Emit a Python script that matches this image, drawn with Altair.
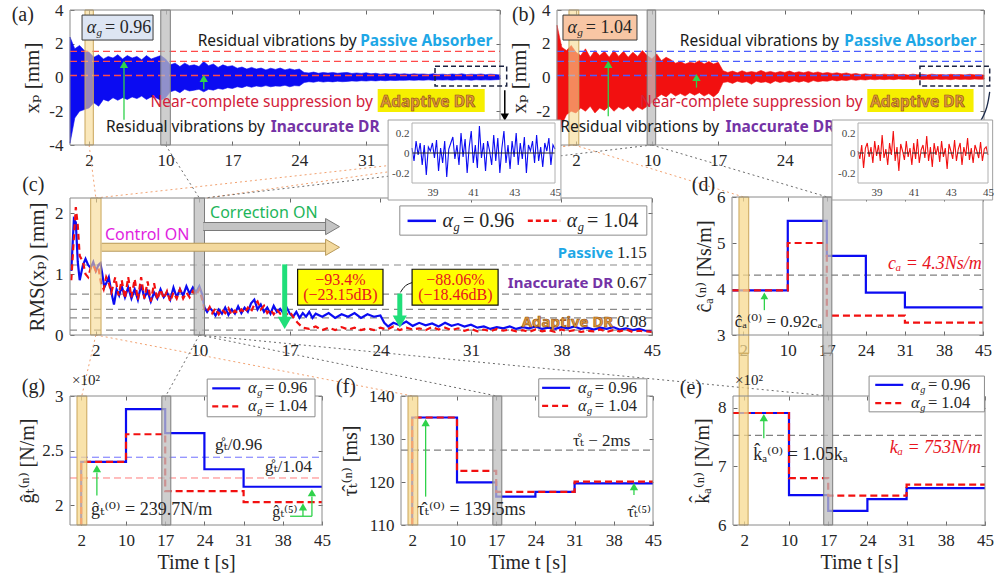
import altair as alt
import pandas as pd

W, H = 995, 580
SERIF = "Liberation Serif, DejaVu Serif, DejaVu Sans, serif"
SANS = "Noto Sans, DejaVu Sans, sans-serif"
BLUE = "#0b0bf2"
RED = "#f21010"
INK = "#262626"
FRAME = "#8a8a8a"
GREEN = "#2fd24a"
MINT = "#20df7a"
GOLD_F, GOLD_S = "#f7d98f", "#c9a55a"
GRAY_F, GRAY_S = "#bdbdbd", "#7d7d7d"
C_PASSIVE = "#1ea7e6"
C_INACC = "#7433a6"
C_ADAPT = "#e39a3c"
C_ADAPT_S = "#8a4a12"
C_NEAR = "#d2213a"
HILITE = "#f6ef00"
ANN = 15.5

# ------------------------------------------------------------------ data
TICKS_T = [2, 10, 17, 24, 31, 38, 45]

# envelope of x_p(t) (a) and (b)  [mm]
ENV_T = [0, 0.5, 1, 1.5, 2, 2.5, 3, 3.5, 4, 4.5,
         5, 5.5, 6, 6.5, 7, 7.5, 8, 8.5, 9, 9.5,
         10, 10.5, 11, 11.5, 12, 12.5, 13, 13.5, 14, 14.5,
         15, 15.5, 16, 16.5, 17, 17.5, 18, 18.5, 19, 19.5,
         20, 20.5, 21, 21.5, 22, 22.5, 23, 23.5, 24, 24.5,
         25, 25.5, 26, 26.5, 27, 27.5, 28, 28.5, 29, 29.5,
         30, 30.5, 31, 31.5, 32, 32.5, 33, 33.5, 34, 34.5,
         35, 35.5, 36, 36.5, 37, 37.5, 38, 38.5, 39, 39.5,
         40, 40.5, 41, 41.5, 42, 42.5, 43, 43.5, 44, 44.5,
         45]
A_UP = [2.4, 1.7, 1.9, 1.6, 1.5, 1.2, 1.35, 1.1, 1.25, 1.15,
        1.35, 1.1, 1.3, 1.15, 1.25, 1.05, 1.3, 1.1, 1.2, 1.3,
        1.1, 0.75, 0.85, 0.65, 0.85, 0.7, 0.75, 0.65, 0.95, 0.7,
        0.8, 0.6, 0.75, 0.65, 0.7, 0.55, 0.62, 0.5, 0.6, 0.5,
        0.56, 0.45, 0.55, 0.48, 0.56, 0.45, 0.52, 0.45, 0.5, 0.3,
        0.27, 0.32, 0.25, 0.3, 0.26, 0.3, 0.25, 0.28, 0.3, 0.24,
        0.27, 0.24, 0.28, 0.22, 0.25, 0.2, 0.23, 0.2, 0.24, 0.2,
        0.22, 0.19, 0.22, 0.2, 0.21, 0.18, 0.22, 0.18, 0.2, 0.17,
        0.21, 0.18, 0.22, 0.17, 0.2, 0.18, 0.21, 0.17, 0.2, 0.18,
        0.15]
A_LO = [-3.9, -2.4, -2.0, -1.9, -1.8, -1.5, -1.7, -1.3, -1.4, -1.2,
        -1.35, -1.2, -1.3, -1.15, -1.25, -1.1, -1.3, -1.15, -1.2, -1.35,
        -1.2, -0.85, -0.75, -0.9, -0.7, -0.8, -0.75, -0.7, -0.85, -0.7,
        -0.75, -0.65, -0.7, -0.6, -0.65, -0.55, -0.6, -0.5, -0.58, -0.5,
        -0.55, -0.48, -0.55, -0.5, -0.52, -0.46, -0.55, -0.48, -0.5, -0.3,
        -0.25, -0.28, -0.22, -0.27, -0.23, -0.26, -0.22, -0.25, -0.23, -0.2,
        -0.22, -0.19, -0.21, -0.18, -0.2, -0.17, -0.19, -0.16, -0.18, -0.16,
        -0.17, -0.15, -0.17, -0.15, -0.16, -0.14, -0.16, -0.14, -0.15, -0.14,
        -0.16, -0.13, -0.15, -0.14, -0.16, -0.13, -0.15, -0.14, -0.15, -0.13,
        -0.12]
B_UP = [3.1, 1.8, 1.6, 1.9, 1.5, 1.3, 1.7, 1.2, 1.6, 1.3,
        1.55, 1.2, 1.6, 1.25, 1.55, 1.2, 1.5, 1.25, 1.6, 1.3,
        1.1, 1.4, 1.0, 1.2, 1.05, 0.85, 0.95, 0.8, 0.9, 0.85,
        1.0, 0.8, 0.95, 0.8, 0.9, 0.4, 0.3, 0.38, 0.28, 0.4,
        0.3, 0.35, 0.3, 0.42, 0.3, 0.36, 0.28, 0.35, 0.3, 0.38,
        0.28, 0.34, 0.28, 0.36, 0.27, 0.33, 0.25, 0.3, 0.24, 0.28,
        0.22, 0.27, 0.2, 0.24, 0.18, 0.22, 0.18, 0.2, 0.16, 0.2,
        0.17, 0.2, 0.16, 0.19, 0.15, 0.2, 0.16, 0.19, 0.15, 0.2,
        0.16, 0.18, 0.15, 0.19, 0.16, 0.18, 0.15, 0.19, 0.16, 0.17,
        0.15]
B_LO = [-4.0, -2.8, -2.2, -2.0, -2.1, -1.8, -2.0, -1.7, -2.1, -1.8,
        -1.95, -1.7, -2.0, -1.75, -1.9, -1.7, -2.0, -1.75, -1.9, -1.7,
        -1.5, -1.2, -1.0, -1.15, -0.9, -1.1, -0.95, -1.1, -0.9, -1.05,
        -0.9, -1.1, -0.95, -1.15, -0.9, -0.3, -0.25, -0.35, -0.22, -0.3,
        -0.25, -0.4, -0.22, -0.3, -0.25, -0.35, -0.2, -0.3, -0.22, -0.3,
        -0.2, -0.28, -0.2, -0.3, -0.18, -0.25, -0.2, -0.22, -0.15, -0.2,
        -0.15, -0.18, -0.12, -0.16, -0.12, -0.15, -0.1, -0.14, -0.1, -0.13,
        -0.1, -0.13, -0.09, -0.12, -0.1, -0.13, -0.09, -0.12, -0.1, -0.12,
        -0.09, -0.12, -0.1, -0.13, -0.09, -0.12, -0.1, -0.12, -0.09, -0.11,
        -0.1]
A_LEVELS = [1.55, 0.95, 0.12]

# zoomed insets 38-45 s  [mm]
IN_T = [38.0, 38.1, 38.2, 38.3, 38.4, 38.5, 38.6, 38.7, 38.8, 38.9,
        39.0, 39.1, 39.2, 39.3, 39.4, 39.5, 39.6, 39.7, 39.8, 39.9,
        40.0, 40.1, 40.2, 40.3, 40.4, 40.5, 40.6, 40.7, 40.8, 40.9,
        41.0, 41.1, 41.2, 41.3, 41.4, 41.5, 41.6, 41.7, 41.8, 41.9,
        42.0, 42.1, 42.2, 42.3, 42.4, 42.5, 42.6, 42.7, 42.8, 42.9,
        43.0, 43.1, 43.2, 43.3, 43.4, 43.5, 43.6, 43.7, 43.8, 43.9,
        44.0, 44.1, 44.2, 44.3, 44.4, 44.5, 44.6, 44.7, 44.8, 44.9,
        45.0]
IN_A = [0.05, -0.08, 0.12, -0.02, 0.1, -0.12, 0.08, -0.22, 0.06, 0.02,
        0.1, -0.05, 0.13, -0.18, 0.05, -0.1, 0.12, -0.24, 0.04, 0.1,
        0.16, -0.06, 0.08, -0.12, 0.2, -0.04, 0.14, -0.2, 0.06, 0.22,
        -0.1, 0.08, -0.15, 0.27, -0.05, 0.1, -0.18, 0.12, 0.02, -0.12,
        0.18, -0.08, 0.15, -0.2, 0.05, 0.22, -0.1, 0.08, -0.16, 0.12,
        -0.04, 0.2, -0.12, 0.1, -0.06, 0.16, -0.2, 0.08, 0.02, 0.12,
        -0.1, 0.18, -0.08, 0.06, -0.14, 0.1, 0.02, 0.15, -0.12, 0.08,
        0.04]
IN_B = [0.02, -0.06, 0.08, -0.15, 0.05, 0.1, -0.04, 0.06, -0.1, 0.12,
        -0.03, 0.08, -0.08, 0.18, -0.05, 0.04, -0.12, 0.1, -0.02, 0.22,
        -0.08, 0.06, -0.18, 0.09, 0.02, -0.07, 0.12, -0.04, 0.05, -0.12,
        0.1, -0.06, 0.14, -0.1, 0.03, 0.08, -0.05, 0.17, -0.08, 0.06,
        -0.14, 0.1, -0.02, 0.07, -0.09, 0.12, -0.04, 0.05, -0.16, 0.09,
        0.02, -0.06, 0.13, -0.08, 0.04, 0.1, -0.12, 0.06, -0.03, 0.15,
        -0.07, 0.05, -0.1, 0.08, 0.02, -0.05, 0.11, -0.08, 0.04, 0.06,
        -0.02]

# panel (c): RMS(x_p) [mm]
C_BLUE = [(0.1, 1.05), (0.3, 1.9), (0.45, 1.85), (0.6, 1.2), (0.75, 0.9), (1.0, 1.15), (1.2, 1.25),
          (1.4, 1.15), (1.6, 1.1), (1.8, 1.2), (2.0, 1.05), (2.2, 1.15), (2.35, 1.18), (2.5, 1.0),
          (2.65, 0.78), (2.8, 0.85), (3.0, 0.95), (3.2, 0.7), (3.4, 0.5), (3.6, 0.75), (3.8, 0.65),
          (4.0, 0.8), (4.25, 0.62), (4.5, 0.78), (4.75, 0.6), (5.0, 0.75), (5.25, 0.58), (5.5, 0.82),
          (5.75, 0.62), (6.0, 0.72), (6.25, 0.55), (6.5, 0.7), (6.75, 0.6), (7.0, 0.75), (7.25, 0.62),
          (7.5, 0.7), (7.75, 0.58), (8.0, 0.78), (8.25, 0.62), (8.5, 0.75), (8.75, 0.65), (9.0, 0.8),
          (9.25, 0.68), (9.5, 0.78), (9.75, 0.7), (10.0, 0.8), (10.2, 0.68), (10.4, 0.45), (10.6, 0.38),
          (10.8, 0.45), (11.0, 0.4), (11.25, 0.32), (11.5, 0.42), (11.75, 0.35), (12.0, 0.45),
          (12.25, 0.33), (12.5, 0.42), (12.75, 0.35), (13.0, 0.47), (13.25, 0.36), (13.5, 0.45),
          (13.75, 0.38), (14.0, 0.52), (14.25, 0.58), (14.5, 0.42), (14.75, 0.5), (15.0, 0.38),
          (15.25, 0.45), (15.5, 0.35), (15.75, 0.48), (16.0, 0.38), (16.25, 0.43), (16.5, 0.36),
          (16.75, 0.45), (17.0, 0.35), (17.25, 0.3), (17.5, 0.38), (17.75, 0.28), (18.0, 0.36),
          (18.25, 0.3), (18.5, 0.38), (18.75, 0.28), (19.0, 0.35), (19.5, 0.3), (20.0, 0.36),
          (20.5, 0.28), (21.0, 0.34), (21.5, 0.3), (22.0, 0.36), (22.5, 0.28), (23.0, 0.34),
          (23.5, 0.3), (24.0, 0.32), (24.3, 0.2), (24.6, 0.14), (25.0, 0.2), (25.5, 0.16), (26.0, 0.22),
          (26.5, 0.15), (27.0, 0.2), (27.5, 0.16), (28.0, 0.19), (28.5, 0.14), (29.0, 0.2), (29.5, 0.15),
          (30.0, 0.18), (30.5, 0.14), (31.0, 0.17), (31.5, 0.12), (32.0, 0.14), (32.5, 0.1), (33.0, 0.13),
          (33.5, 0.11), (34.0, 0.14), (34.5, 0.1), (35.0, 0.13), (35.5, 0.11), (36.0, 0.14), (36.5, 0.1),
          (37.0, 0.12), (37.5, 0.1), (38.0, 0.13), (38.5, 0.11), (39.0, 0.14), (39.5, 0.1), (40.0, 0.12),
          (40.5, 0.09), (41.0, 0.12), (41.5, 0.1), (42.0, 0.13), (42.5, 0.09), (43.0, 0.11), (43.5, 0.08),
          (44.0, 0.1), (44.5, 0.07), (45.0, 0.06)]
C_RED = [(0.1, 0.9), (0.3, 1.6), (0.45, 2.1), (0.6, 1.8), (0.75, 1.3), (1.0, 1.2), (1.2, 1.0),
         (1.4, 0.95), (1.6, 1.1), (1.8, 1.15), (2.0, 1.05), (2.2, 1.1), (2.4, 0.85), (2.6, 0.75),
         (2.8, 0.95), (3.0, 0.85), (3.2, 0.7), (3.5, 0.95), (3.75, 0.65), (4.0, 0.9), (4.25, 0.6),
         (4.5, 0.95), (4.75, 0.62), (5.0, 0.92), (5.25, 0.58), (5.5, 0.95), (5.75, 0.6), (6.0, 0.88),
         (6.25, 0.55), (6.5, 0.85), (6.75, 0.58), (7.0, 0.75), (7.25, 0.6), (7.5, 0.72), (7.75, 0.55),
         (8.0, 0.7), (8.25, 0.6), (8.5, 0.75), (8.75, 0.6), (9.0, 0.7), (9.25, 0.62), (9.5, 0.72),
         (9.75, 0.65), (10.0, 0.75), (10.2, 0.6), (10.4, 0.42), (10.6, 0.38), (10.8, 0.46), (11.0, 0.36),
         (11.25, 0.44), (11.5, 0.34), (11.75, 0.42), (12.0, 0.36), (12.25, 0.44), (12.5, 0.33),
         (12.75, 0.4), (13.0, 0.35), (13.25, 0.42), (13.5, 0.36), (13.75, 0.45), (14.0, 0.38),
         (14.25, 0.5), (14.5, 0.55), (14.75, 0.42), (15.0, 0.48), (15.25, 0.36), (15.5, 0.42),
         (15.75, 0.34), (16.0, 0.42), (16.25, 0.35), (16.5, 0.4), (16.75, 0.34), (17.0, 0.38),
         (17.3, 0.28), (17.6, 0.2), (18.0, 0.12), (18.5, 0.1), (19.0, 0.14), (19.5, 0.08), (20.0, 0.12),
         (20.5, 0.08), (21.0, 0.13), (21.5, 0.09), (22.0, 0.12), (22.5, 0.08), (23.0, 0.11), (23.5, 0.08),
         (24.0, 0.12), (24.5, 0.09), (25.0, 0.14), (25.5, 0.08), (26.0, 0.12), (26.5, 0.09), (27.0, 0.11),
         (27.5, 0.08), (28.0, 0.13), (28.5, 0.09), (29.0, 0.12), (29.5, 0.08), (30.0, 0.11), (30.5, 0.07),
         (31.0, 0.1), (31.5, 0.06), (32.0, 0.09), (32.5, 0.06), (33.0, 0.1), (33.5, 0.07), (34.0, 0.09),
         (34.5, 0.06), (35.0, 0.08), (35.5, 0.05), (36.0, 0.09), (36.5, 0.06), (37.0, 0.08), (37.5, 0.05),
         (38.0, 0.09), (38.5, 0.06), (39.0, 0.08), (39.5, 0.05), (40.0, 0.07), (40.5, 0.06), (41.0, 0.09),
         (41.5, 0.05), (42.0, 0.08), (42.5, 0.06), (43.0, 0.09), (43.5, 0.05), (44.0, 0.07), (44.5, 0.06),
         (45.0, 0.05)]
C_LEVELS = [1.15, 0.67, 0.42, 0.28, 0.08]

# parameter updates (step functions)
D_BT, D_BV = [0, 10, 17, 24, 31, 45], [3.97, 5.48, 4.72, 3.92, 3.6, 3.6]
D_RT, D_RV = [0, 10, 17, 31, 45], [3.97, 5.0, 3.42, 3.27, 3.27]
D_REF = 4.3
G_BT, G_BV = [2, 2, 10, 17, 24, 31, 45], [1.0, 2.397, 2.88, 2.66, 2.33, 2.17, 2.17]
G_RT, G_RV = [2, 2, 10, 17, 31, 45], [1.0, 2.397, 2.65, 2.13, 2.03, 2.03]
G_REF_B, G_REF_R = 2.44, 2.25
F_BT, F_BV = [2, 2, 10, 17, 24, 31, 45], [100, 135, 119.9, 116.6, 117.7, 119.7, 119.7]
F_RT, F_RV = [2, 2, 10, 17, 31, 45], [100, 135, 122.6, 117.7, 120.1, 120.1]
F_REF = 127.4
E_BT, E_BV = [0, 10, 17, 24, 31, 45], [7.91, 6.51, 6.24, 6.44, 6.63, 6.63]
E_RT, E_RV = [0, 10, 17, 31, 45], [7.91, 6.8, 6.5, 6.69, 6.69]
E_REF = 7.53

ALL = []


class Panel:
    def __init__(self, xd, xr, yd, yr):
        self.xd, self.xr, self.yd, self.yr = xd, xr, yd, yr

    def _sc(self, d, r, clamp):
        return alt.Scale(domain=d, range=r, nice=False, zero=False, clamp=clamp)

    def enc(self, clamp=False, x2=False, y2=False):
        e = dict(x=alt.X('x:Q', scale=self._sc(self.xd, self.xr, clamp), axis=None),
                 y=alt.Y('y:Q', scale=self._sc(self.yd, self.yr, clamp), axis=None))
        if x2:
            e['x2'] = alt.X2('x2')
        if y2:
            e['y2'] = alt.Y2('y2')
        return e

    def line(self, xs, ys, clamp=False, **mk):
        df = pd.DataFrame({'x': list(xs), 'y': list(ys), 'o': list(range(len(xs)))})
        ALL.append(alt.Chart(df).mark_line(**mk).encode(order='o:Q', **self.enc(clamp)))

    def area(self, xs, lo, hi, **mk):
        df = pd.DataFrame({'x': xs, 'y': hi, 'y2': lo})
        ALL.append(alt.Chart(df).mark_area(**mk).encode(**self.enc(y2=True)))

    def rect(self, x0, x1, y0, y1, **mk):
        df = pd.DataFrame({'x': [x0], 'x2': [x1], 'y': [y0], 'y2': [y1]})
        ALL.append(alt.Chart(df).mark_rect(**mk).encode(**self.enc(x2=True, y2=True)))

    def rule(self, x0, y0, x1, y1, **mk):
        df = pd.DataFrame({'x': [x0], 'x2': [x1], 'y': [y0], 'y2': [y1]})
        ALL.append(alt.Chart(df).mark_rule(**mk).encode(**self.enc(x2=True, y2=True)))

    def text(self, x, y, s, **mk):
        df = pd.DataFrame({'x': [x], 'y': [y], 's': [s]})
        ALL.append(alt.Chart(df).mark_text(**mk).encode(text='s:N', **self.enc()))

    def point(self, x, y, **mk):
        df = pd.DataFrame({'x': [x], 'y': [y]})
        ALL.append(alt.Chart(df).mark_point(**mk).encode(**self.enc()))

    def frame(self, color=FRAME, width=1):
        self.rect(self.xd[0], self.xd[1], self.yd[0], self.yd[1], fillOpacity=0,
                  stroke=color, strokeWidth=width)

    def axes(self, xvals, yvals, xtitle=None, ytitle=None, fs=17, tfs=20, z=0, col=INK,
             ticks=True, ytp=6, xtp=4, lp=7, xlab=None, ylab=None):
        xl, xr_ = self.xr
        yb, yt = self.yr
        df = pd.DataFrame({'x': [self.xd[0]], 'y': [self.yd[0]]})
        lab = dict(domain=False, ticks=False, grid=False, labelFont=SERIF, labelFontSize=fs,
                   labelColor=col, labelFlush=False, labelOverlap=False, labelPadding=lp,
                   labelExpr="'' + datum.value", zindex=z,
                   titleFont=SERIF, titleFontSize=tfs, titleColor=col, titleFontWeight='normal')
        xa = alt.Axis(orient='bottom', offset=yb - H, values=xlab or xvals, title=xtitle,
                      titlePadding=xtp, **lab)
        ya = alt.Axis(orient='left', offset=-xl, values=ylab or yvals, title=ytitle,
                      titlePadding=ytp, **lab)
        ALL.append(alt.Chart(df).mark_point(opacity=0).encode(
            x=alt.X('x:Q', scale=self._sc(self.xd, self.xr, False), axis=xa),
            y=alt.Y('y:Q', scale=self._sc(self.yd, self.yr, False), axis=ya)))
        if ticks:
            tk = dict(domain=False, labels=False, grid=False, ticks=True, tickSize=4,
                      tickColor='#6a6a6a', title=None, zindex=z)
            for xo, xoff, yo, yoff in [('top', -yb, 'right', xl - W),
                                       ('bottom', yt - H, 'left', -xr_)]:
                ALL.append(alt.Chart(df).mark_point(opacity=0).encode(
                    x=alt.X('x:Q', scale=self._sc(self.xd, self.xr, False),
                            axis=alt.Axis(orient=xo, offset=xoff, values=xvals, **tk)),
                    y=alt.Y('y:Q', scale=self._sc(self.yd, self.yr, False),
                            axis=alt.Axis(orient=yo, offset=yoff, values=yvals, **tk))))


def pix(p, t, v):
    x = p.xr[0] + (t - p.xd[0]) / (p.xd[1] - p.xd[0]) * (p.xr[1] - p.xr[0])
    y = p.yr[0] + (v - p.yd[0]) / (p.yd[1] - p.yd[0]) * (p.yr[1] - p.yr[0])
    return x, y


def arrow(p, x0, y0, x1, y1, color, width, hx, hy, shape, size, angle=0):
    p.rule(x0, y0, x1, y1, color=color, strokeWidth=width)
    p.point(hx, hy, shape=shape, size=size, filled=True, color=color, opacity=1, angle=angle)


def alpha(p, x, y, val, fs, color=INK):
    p.text(x, y, 'α', align='left', font=SERIF, fontSize=fs, fontStyle='italic', color=color)
    p.text(x, y, 'g', align='left', font=SERIF, fontSize=round(fs * 0.62, 1), fontStyle='italic',
           color=color, dx=round(fs * 0.55, 1), dy=round(fs * 0.3, 1))
    p.text(x, y, '= ' + val, align='left', font=SERIF, fontSize=fs, color=color,
           dx=round(fs * 1.02, 1))


def bands(p, gold, gray, lo=None, hi=None, ga=0.6):
    lo = p.yd[0] if lo is None else lo
    hi = p.yd[1] if hi is None else hi
    p.rect(gold[0], gold[1], lo, hi, fill=GOLD_F, fillOpacity=ga, stroke=GOLD_S, strokeWidth=1)
    p.rect(gray[0], gray[1], lo, hi, fill=GRAY_F, fillOpacity=0.75, stroke=GRAY_S, strokeWidth=1)


def legend(p, box, xs, vb, vr, xt, fs):
    p.rect(box[0], box[1], box[2], box[3], fill='white', stroke='#8c8c8c', strokeWidth=1)
    p.rule(xs[0], vb, xs[1], vb, color=BLUE, strokeWidth=2.2)
    p.rule(xs[0], vr, xs[1], vr, color=RED, strokeWidth=2.2, strokeDash=[6, 4])
    alpha(p, xt, vb, '0.96', fs)
    alpha(p, xt, vr, '1.04', fs)


# ------------------------------------------------------------------ panels (layout)
A = Panel([0, 45], [70, 500], [-4, 4], [145, 10])
B = Panel([0, 45], [557, 984], [-4, 4], [145, 10])
AI = Panel([38, 45], [412, 555], [-0.3, 0.3], [183, 123])
BI = Panel([38, 45], [858, 988], [-0.3, 0.3], [183, 123])
C = Panel([0, 45], [70, 652], [0, 2.25], [335, 198])
D = Panel([0, 45], [732, 983], [3, 6], [335, 197])
G = Panel([0, 45], [70, 322], [1.82, 3.0], [525, 396])
F = Panel([0, 45], [401, 653], [110, 140], [525, 396])
E = Panel([0, 45], [733, 985], [6, 8.2], [525, 396])
CAN = Panel([0, W], [0, W], [0, H], [0, H])

# zoom connectors (dotted)
ORANGE_LINKS = [((A, 2.0, -4), (C, 2.0, 2.25)), ((C, 2.0, 2.25), (B, 1.8, -4)),
                ((C, 10.6, 2.25), (B, 1.8, -4)), ((B, 1.8, -4), (D, 2.1, 6)),
                ((C, 2.0, 0), (G, 2.1, 3.0)), ((C, 2.0, 0), (F, 2.1, 140))]
GRAY_LINKS = [((A, 10.0, -4), (C, 10.0, 2.25)), ((B, 10.0, -4), (D, 17.1, 6)),
              ((B, 10.0, -4), (C, 10.4, 2.25)), ((C, 10.0, 0), (G, 17.1, 3.0)),
              ((C, 10.0, 0), (F, 17.1, 140)), ((C, 10.0, 0), (E, 17.1, 8.2))]
for links, col in [(ORANGE_LINKS, '#f2a271'), (GRAY_LINKS, '#6b6b6b')]:
    for (p0, t0, v0), (p1, t1, v1) in links:
        x0, y0 = pix(p0, t0, v0)
        x1, y1 = pix(p1, t1, v1)
        CAN.rule(x0, y0, x1, y1, color=col, strokeWidth=1, strokeDash=[2, 3])

# ---------------- (a)
A.axes(TICKS_T, [-4, -2, 0, 2, 4], ytitle='xₚ [mm]', tfs=21, ytp=6, xlab=[2, 10, 17, 24, 31])
A.area(ENV_T, A_LO, A_UP, color=BLUE, stroke=BLUE, strokeWidth=0.6)
for lv in A_LEVELS:
    A.rule(0, lv, 45, lv, color='#ff4a4a', strokeWidth=1.3, strokeDash=[7, 4])
bands(A, (1.57, 2.44), (9.5, 10.5))
A.frame()
A.rect(1.26, 8.69, 3.70, 2.22, fill='#dde5f3', stroke='#3a3a3a', strokeWidth=1)
alpha(A, 1.75, 2.93, '0.96', 18)
A.text(44.2, 2.16, 'Passive Absorber', align='right', font=SANS, fontSize=ANN, fontWeight='bold', color=C_PASSIVE)
A.text(30.0, 2.16, 'Residual vibrations by', align='right', font=SANS, fontSize=ANN, color='#1a1a1a')
A.rect(32.2, 43.4, -0.68, -2.04, fill=HILITE)
A.text(31.7, -1.45, 'Near-complete suppression by', align='right', font=SANS, fontSize=ANN, color=C_NEAR)
A.text(32.5, -1.45, 'Adaptive DR', align='left', font=SANS, fontSize=ANN, fontWeight='bold',
       fill=C_ADAPT, stroke=C_ADAPT_S, strokeWidth=0.6)
A.text(20.4, -2.93, 'Residual vibrations by', align='right', font=SANS, fontSize=ANN, color='#1a1a1a')
A.text(21.0, -2.93, 'Inaccurate DR', align='left', font=SANS, fontSize=ANN, fontWeight='bold', color=C_INACC)
arrow(A, 5.65, -2.5, 5.65, 0.6, GREEN, 1.3, 5.65, 0.78, 'triangle-up', 70)
arrow(A, 14.0, -0.7, 14.0, -0.2, GREEN, 1.3, 14.0, -0.05, 'triangle-up', 70)
A.rect(38.2, 45.7, -0.5, 0.67, fillOpacity=0, stroke='#1b2340', strokeWidth=1.5, strokeDash=[5, 3])
arrow(A, 45.5, -0.75, 45.5, -2.2, 'black', 1.5, 45.5, -2.35, 'triangle-down', 70)
A.text(-6.1, 3.7, '(a)', align='left', font=SERIF, fontSize=20, color=INK)

# ---------------- (b)
B.axes(TICKS_T, [-4, -2, 0, 2, 4], ytitle='xₚ [mm]', tfs=21, ytp=6,
       xlab=[2, 10, 17, 24], ylab=[-2, 0, 2, 4])
B.area(ENV_T, B_LO, B_UP, color=RED, stroke=RED, strokeWidth=0.6)
for lv in A_LEVELS:
    B.rule(0, lv, 45, lv, color='#4a5cff', strokeWidth=1.3, strokeDash=[7, 4])
bands(B, (1.26, 2.3), (9.5, 10.4))
B.frame()
B.rect(0.63, 8.43, 3.70, 2.22, fill='#f8c6a4', stroke='#3a3a3a', strokeWidth=1)
alpha(B, 1.1, 2.93, '1.04', 18)
B.text(44.2, 2.14, 'Passive Absorber', align='right', font=SANS, fontSize=ANN, fontWeight='bold', color=C_PASSIVE)
B.text(29.7, 2.14, 'Residual vibrations by', align='right', font=SANS, fontSize=ANN, color='#1a1a1a')
B.rect(32.7, 43.9, -0.68, -2.04, fill=HILITE)
B.text(32.2, -1.43, 'Near-complete suppression by', align='right', font=SANS, fontSize=ANN, color=C_NEAR)
B.text(33.0, -1.43, 'Adaptive DR', align='left', font=SANS, fontSize=ANN, fontWeight='bold',
       fill=C_ADAPT, stroke=C_ADAPT_S, strokeWidth=0.6)
B.text(17.1, -2.93, 'Residual vibrations by', align='right', font=SANS, fontSize=ANN, color='#1a1a1a')
B.text(17.75, -2.93, 'Inaccurate DR', align='left', font=SANS, fontSize=ANN, fontWeight='bold', color=C_INACC)
arrow(B, 5.4, -2.3, 5.4, 0.6, GREEN, 1.3, 5.4, 0.78, 'triangle-up', 70)
arrow(B, 14.7, -0.6, 14.7, -0.15, GREEN, 1.3, 14.7, 0.0, 'triangle-up', 70)
B.rect(38.25, 45.6, -0.5, 0.67, fillOpacity=0, stroke='#1b2340', strokeWidth=1.5, strokeDash=[5, 3])
B.line([45.6, 45.3, 44.2], [-0.85, -2.0, -3.0], color='#1b2a4a', strokeWidth=1.3, interpolate='basis')
B.point(44.05, -3.12, shape='triangle-up', size=55, filled=True, color='#1b2a4a', opacity=1, angle=210)
B.text(-4.75, 3.7, '(b)', align='left', font=SERIF, fontSize=20, color=INK)

# ---------------- (c)
C.axes(TICKS_T, [0, 1, 2], ytitle='RMS(xₚ) [mm]', tfs=21, ytp=7)
for lv in C_LEVELS:
    C.rule(0, lv, 45, lv, color='#8a8a8a', strokeWidth=1.2, strokeDash=[7, 5])
ct, cv = zip(*C_BLUE)
C.line(ct, cv, color=BLUE, strokeWidth=2.2)
ct, cv = zip(*C_RED)
C.line(ct, cv, color=RED, strokeWidth=2.2, strokeDash=[6, 4])
bands(C, (1.6, 2.4), (9.6, 10.4))
C.frame()
C.rule(10.3, 1.78, 19.9, 1.78, color='#7a7a7a', strokeWidth=9)
C.rule(10.3, 1.78, 19.9, 1.78, color='#c4c4c4', strokeWidth=7)
C.point(20.3, 1.78, shape='triangle-right', size=260, filled=True, fill='#c4c4c4', stroke='#7a7a7a',
        strokeWidth=1, opacity=1)
C.rule(2.45, 1.44, 19.9, 1.44, color='#b89a5a', strokeWidth=9)
C.rule(2.45, 1.44, 19.9, 1.44, color='#f3d99e', strokeWidth=7)
C.point(20.3, 1.44, shape='triangle-right', size=260, filled=True, fill='#f3d99e', stroke='#b89a5a',
        strokeWidth=1, opacity=1)
C.text(10.83, 2.0, 'Correction ON', align='left', font=SANS, fontSize=16, color='#1db55a')
C.text(2.7, 1.64, 'Control ON', align='left', font=SANS, fontSize=16, color='#e01ee0')
C.text(42.0, 1.34, 'Passive', align='right', font=SANS, fontSize=15, fontWeight='bold', color=C_PASSIVE)
C.text(42.3, 1.34, '1.15', align='left', font=SERIF, fontSize=17, color=INK)
C.text(42.0, 0.85, 'Inaccurate DR', align='right', font=SANS, fontSize=15, fontWeight='bold', color=C_INACC)
C.text(42.3, 0.85, '0.67', align='left', font=SERIF, fontSize=17, color=INK)
C.text(42.0, 0.22, 'Adaptive DR', align='right', font=SANS, fontSize=15, fontWeight='bold',
       fill=C_ADAPT, stroke=C_ADAPT_S, strokeWidth=0.6)
C.text(42.3, 0.22, '0.08', align='left', font=SERIF, fontSize=17, color=INK)
arrow(C, 16.6, 1.16, 16.6, 0.26, MINT, 5, 16.6, 0.2, 'triangle-down', 200)
arrow(C, 25.5, 0.68, 25.5, 0.28, MINT, 5, 25.5, 0.22, 'triangle-down', 200)
C.rect(17.6, 24.2, 1.08, 0.49, fill='#ffff00', stroke='#111111', strokeWidth=1.2)
C.text(20.9, 0.91, '−93.4%', font=SERIF, fontSize=16, color='#e8141e')
C.text(20.9, 0.65, '(−23.15dB)', font=SERIF, fontSize=16, color='#e8141e')
C.rect(26.45, 33.1, 1.08, 0.49, fill='#ffff00', stroke='#111111', strokeWidth=1.2)
C.text(29.8, 0.91, '−88.06%', font=SERIF, fontSize=16, color='#e8141e')
C.text(29.8, 0.65, '(−18.46dB)', font=SERIF, fontSize=16, color='#e8141e')
C.line([26.45, 25.9, 25.55], [0.86, 0.82, 0.7], color='#111111', strokeWidth=1, interpolate='basis')
C.rect(25.5, 44.6, 2.12, 1.64, fill='white', stroke='#8c8c8c', strokeWidth=1)
C.rule(26.1, 1.875, 28.3, 1.875, color=BLUE, strokeWidth=2.5)
alpha(C, 28.8, 1.875, '0.96', 20)
C.rule(35.4, 1.875, 37.9, 1.875, color=RED, strokeWidth=2.5, strokeDash=[5, 3])
alpha(C, 38.4, 1.875, '1.04', 20)
C.text(-3.7, 2.46, '(c)', align='left', font=SERIF, fontSize=20, color=INK)

# ---------------- (d)
D.axes(TICKS_T, [3, 4, 5, 6], ytitle='ĉₐ⁽ⁿ⁾ [Ns/m]', tfs=20, ytp=2)
D.rule(0, D_REF, 45, D_REF, color='#808080', strokeWidth=1.2, strokeDash=[7, 4])
D.line(D_BT, D_BV, color=BLUE, strokeWidth=2.2, interpolate='step-after')
D.line(D_RT, D_RV, color=RED, strokeWidth=2.2, strokeDash=[7, 4], interpolate='step-after')
bands(D, (1.25, 3.0), (16.3, 17.9), lo=2.6, ga=0.75)
D.frame()
D.text(44.8, 4.54, 'cₐ = 4.3Ns/m', align='right', font=SERIF, fontSize=18, fontStyle='italic', color='#e8141e')
D.text(0.5, 3.28, 'ĉₐ⁽⁰⁾ = 0.92cₐ', align='left', font=SERIF, fontSize=17, color=INK)
arrow(D, 5.8, 3.54, 5.8, 3.8, GREEN, 1.3, 5.8, 3.85, 'triangle-up', 60)
D.text(-7.2, 6.26, '(d)', align='left', font=SERIF, fontSize=20, color=INK)

# ---------------- (g)
G.axes(TICKS_T, [2, 2.5, 3], xtitle='Time t [s]', ytitle='ĝₜ⁽ⁿ⁾ [N/m]', tfs=20, ytp=4)
G.rule(0, G_REF_B, 45, G_REF_B, color='#6f6fff', strokeWidth=1, strokeDash=[7, 4])
G.rule(0, G_REF_R, 45, G_REF_R, color='#ff7b7b', strokeWidth=1, strokeDash=[7, 4])
G.line(G_BT, G_BV, clamp=True, color=BLUE, strokeWidth=2.2, interpolate='step-after')
G.line(G_RT, G_RV, clamp=True, color=RED, strokeWidth=2.2, strokeDash=[7, 4], interpolate='step-after')
bands(G, (1.25, 3.0), (16.4, 18.0), ga=0.75)
G.frame()
G.text(25.9, 2.55, 'g̊ₜ/0.96', align='left', font=SERIF, fontSize=17, color=INK)
G.text(34.8, 2.35, 'g̊ₜ/1.04', align='left', font=SERIF, fontSize=17, color=INK)
G.text(3.75, 1.96, 'ĝₜ⁽⁰⁾ = 239.7N/m', align='left', font=SERIF, fontSize=18, color=INK)
G.text(36.1, 1.94, 'ĝₜ⁽⁵⁾', align='left', font=SERIF, fontSize=16, color=INK)
arrow(G, 4.8, 2.09, 4.8, 2.3, GREEN, 1.3, 4.8, 2.335, 'triangle-up', 70)
G.rule(39.3, 1.90, 43.2, 1.90, color=GREEN, strokeWidth=1.3)
arrow(G, 43.2, 1.90, 43.2, 2.08, GREEN, 1.3, 43.2, 2.115, 'triangle-up', 70)
arrow(G, 41.6, 1.90, 41.6, 1.96, GREEN, 1.3, 41.6, 1.985, 'triangle-up', 70)
legend(G, (24.5, 43.75, 3.155, 2.81), (25.4, 30.4), 3.07, 2.905, 31.8, 16.5)
G.text(0.36, 3.146, '×10²', align='left', font=SERIF, fontSize=15, color=INK)
G.text(-8.6, 3.08, '(g)', align='left', font=SERIF, fontSize=20, color=INK)

# ---------------- (f)
F.axes(TICKS_T, [110, 120, 130, 140], xtitle='Time t [s]', ytitle='τ̂ₜ⁽ⁿ⁾ [ms]', tfs=20, ytp=8)
F.rule(0, F_REF, 45, F_REF, color='#808080', strokeWidth=1.2, strokeDash=[7, 4])
F.line(F_BT, F_BV, clamp=True, color=BLUE, strokeWidth=2.2, interpolate='step-after')
F.line(F_RT, F_RV, clamp=True, color=RED, strokeWidth=2.2, strokeDash=[7, 4], interpolate='step-after')
bands(F, (1.25, 3.0), (16.4, 18.0), ga=0.75)
F.frame()
F.text(2.9, 113.5, 'τ̂ₜ⁽⁰⁾ = 139.5ms', align='left', font=SERIF, fontSize=18, color=INK)
F.text(30.7, 129.5, 'τ̊ₜ − 2ms', align='left', font=SERIF, fontSize=17, color=INK)
F.text(40.4, 113.0, 'τ̂ₜ⁽⁵⁾', align='left', font=SERIF, fontSize=16, color=INK)
arrow(F, 4.4, 116.6, 4.4, 133.2, GREEN, 1.3, 4.4, 133.8, 'triangle-up', 70)
arrow(F, 41.6, 117.0, 41.6, 118.6, GREEN, 1.3, 41.6, 118.9, 'triangle-up', 70)
legend(F, (24.6, 43.9, 144.0, 135.1), (25.2, 30.2), 141.9, 137.7, 31.6, 16.5)
F.text(-11.6, 142.1, '(f)', align='left', font=SERIF, fontSize=20, color=INK)

# ---------------- (e)
E.axes(TICKS_T, [6, 7, 8], xtitle='Time t [s]', ytitle='k̂ₐ⁽ⁿ⁾ [N/m]', tfs=20, ytp=5)
E.rule(0, E_REF, 45, E_REF, color='#808080', strokeWidth=1.2, strokeDash=[7, 4])
E.line(E_BT, E_BV, color=BLUE, strokeWidth=2.2, interpolate='step-after')
E.line(E_RT, E_RV, color=RED, strokeWidth=2.2, strokeDash=[7, 4], interpolate='step-after')
bands(E, (1.1, 2.7), (16.2, 17.8), hi=8.93, ga=0.75)
E.frame()
E.text(3.6, 7.19, 'k̂ₐ⁽⁰⁾ = 1.05kₐ', align='left', font=SERIF, fontSize=18, color=INK)
E.text(44.3, 7.31, 'kₐ = 753N/m', align='right', font=SERIF, fontSize=18, fontStyle='italic', color='#e8141e')
arrow(E, 5.5, 7.48, 5.5, 7.78, GREEN, 1.3, 5.5, 7.83, 'triangle-up', 70)
legend(E, (24.3, 44.9, 8.54, 7.93), (25.4, 30.4), 8.39, 8.08, 31.8, 16.5)
E.text(0.36, 8.47, '×10²', align='left', font=SERIF, fontSize=15, color=INK)
E.text(-9.5, 8.34, '(e)', align='left', font=SERIF, fontSize=20, color=INK)

# ---------------- insets (drawn last)
AI.rect(36.83, 45.29, 0.33, -0.47, fill='white', stroke='#a0a0a0', strokeWidth=1)
AI.axes([39, 41, 43, 45], [-0.2, 0, 0.2], fs=11, z=1, col='#444444', ticks=False, lp=3)
AI.line(IN_T, IN_A, color=BLUE, strokeWidth=1.1)
AI.rule(38, 0, 45, 0, color='#222222', strokeWidth=1.2)
AI.frame(color='#b0b0b0')
BI.rect(36.6, 45.25, 0.33, -0.47, fill='white', stroke='#a0a0a0', strokeWidth=1)
BI.axes([39, 41, 43, 45], [-0.2, 0, 0.2], fs=11, z=1, col='#444444', ticks=False, lp=3)
BI.line(IN_T, IN_B, color=RED, strokeWidth=1.1)
BI.rule(38, 0, 45, 0, color='#222222', strokeWidth=1.2, strokeDash=[6, 3])
BI.frame(color='#b0b0b0')

chart = alt.layer(*ALL).resolve_scale(x='independent', y='independent').properties(
    width=W, height=H, padding=0, autosize=alt.AutoSizeParams(type='none'), background='white'
).configure_view(stroke=None)

chart.save("out.html", embed_options={"renderer": "svg", "actions": False})
